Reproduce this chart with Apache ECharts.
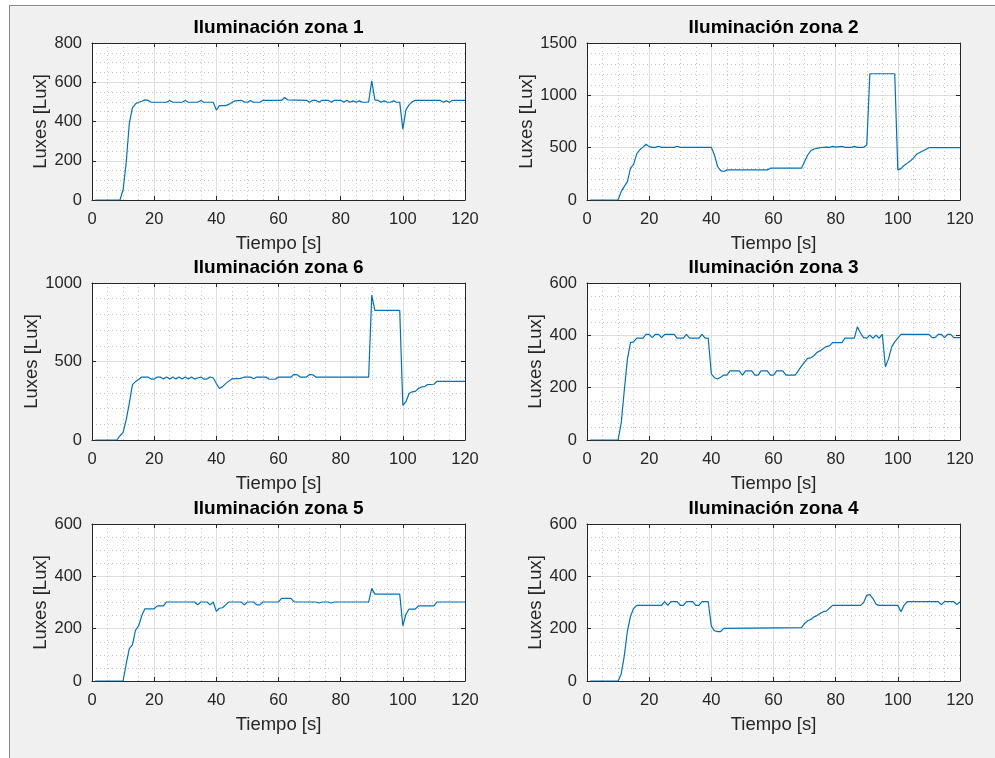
<!DOCTYPE html>
<html>
<head>
<meta charset="utf-8">
<script src="https://cdn.jsdelivr.net/npm/echarts@6/dist/echarts.min.js"></script>
<style>
  html, body { margin: 0; padding: 0; background: #ffffff; }
  #marco { position: absolute; left: 9px; top: 5px; width: 990px; height: 760px;
           background: #f0f0f0; border-left: 1px solid #8c8c8c; border-top: 1px solid #8c8c8c; }
  #grafico { position: absolute; left: 0; top: 0; width: 995px; height: 758px; }
</style>
</head>
<body>
<div id="marco"></div>
<div id="grafico"></div>
<script>
// Mediciones de iluminación por zona: pares [tiempo (s), luxes]
const zona1 = [[1,0],[9,0],[10,52],[11,190],[12,391],[13,470],[14,490],[15,498],[16,503],[17,510],[18,508],[19,498],[24,498],[25,507],[26,498],[29,498],[30,507],[31,498],[34,498],[35,507],[36,498],[39,498],[40,458],[41,481],[43,481],[44,487],[45,497],[46,505],[48,508],[49,500],[50,498],[51,507],[52,498],[54,498],[55,508],[61,508],[62,522],[63,510],[69,508],[70,498],[71,508],[72,508],[73,498],[74,508],[76,508],[77,498],[78,508],[80,508],[81,498],[82,508],[83,498],[84,505],[85,498],[86,505],[87,498],[88,498],[89,500],[90,607],[91,510],[92,508],[93,498],[94,505],[95,498],[96,498],[97,505],[98,498],[99,498],[100,361],[101,459],[102,485],[103,500],[104,508],[112,508],[113,498],[114,505],[115,498],[116,508],[120,508]];
const zona2 = [[1,0],[10,0],[11,80],[12,130],[13,175],[14,304],[15,340],[16,440],[17,480],[18,505],[19,532],[20,510],[21,503],[22,503],[23,513],[24,503],[28,503],[29,513],[30,503],[40,503],[41,430],[42,320],[43,280],[44,272],[45,288],[58,288],[59,304],[69,304],[70,367],[71,430],[72,470],[73,487],[75,500],[77,506],[78,503],[79,512],[80,506],[82,512],[83,503],[85,503],[86,512],[87,503],[89,503],[90,525],[91,1206],[99,1206],[100,288],[101,300],[102,330],[103,350],[104,372],[105,400],[106,437],[108,468],[110,500],[120,500]];
const zona6 = [[1,0],[8,0],[9,27],[10,48],[11,128],[12,233],[13,353],[14,372],[15,385],[16,401],[18,401],[19,388],[20,388],[21,401],[22,401],[23,388],[24,401],[25,388],[26,401],[27,388],[28,401],[29,388],[30,401],[31,388],[32,401],[33,388],[34,395],[35,401],[36,388],[37,388],[38,401],[39,395],[40,360],[41,328],[42,340],[43,359],[44,375],[45,389],[48,393],[49,401],[51,401],[52,390],[53,401],[56,401],[57,387],[59,387],[60,401],[64,401],[65,418],[66,415],[67,401],[69,401],[70,418],[71,415],[72,401],[89,401],[90,922],[91,826],[99,826],[100,221],[101,244],[102,296],[103,307],[104,310],[105,328],[106,338],[107,340],[108,353],[110,355],[111,374],[120,374]];
const zona3 = [[1,0],[10,0],[11,64],[12,190],[13,309],[14,372],[15,375],[16,389],[18,389],[19,404],[20,404],[21,391],[22,404],[23,404],[24,391],[25,404],[28,404],[29,389],[31,389],[32,404],[33,389],[36,389],[37,404],[38,389],[39,389],[40,253],[41,238],[42,233],[43,240],[44,248],[45,248],[46,264],[49,264],[50,248],[51,264],[53,264],[54,248],[55,248],[56,264],[58,264],[59,248],[60,248],[61,264],[63,264],[64,248],[67,248],[68,265],[69,282],[70,298],[71,312],[72,314],[73,322],[74,335],[75,341],[76,350],[77,357],[78,360],[79,372],[82,372],[83,389],[86,389],[87,433],[88,408],[89,391],[90,389],[91,401],[92,389],[93,401],[94,389],[95,404],[96,280],[97,310],[98,355],[99,375],[101,404],[110,404],[111,391],[112,391],[113,404],[114,404],[115,391],[116,404],[117,404],[118,391],[120,391]];
const zona5 = [[1,0],[10,0],[11,65],[12,124],[13,138],[14,194],[15,211],[16,249],[17,276],[20,276],[21,287],[23,287],[24,302],[33,302],[34,291],[35,302],[37,302],[38,291],[39,302],[40,266],[41,278],[42,280],[43,291],[44,302],[48,302],[49,291],[50,302],[52,302],[53,291],[54,291],[55,302],[60,302],[61,316],[64,316],[65,302],[72,302],[73,298],[74,302],[76,302],[77,298],[78,302],[89,302],[90,354],[91,332],[99,332],[100,211],[101,255],[102,275],[104,275],[105,287],[110,287],[111,302],[120,302]];
const zona4 = [[1,0],[10,0],[11,27],[12,96],[13,191],[14,248],[15,277],[16,289],[24,289],[25,303],[26,289],[27,303],[29,303],[30,289],[31,289],[32,303],[34,303],[35,289],[36,289],[37,303],[39,303],[40,210],[41,192],[42,189],[43,189],[44,201],[69,204],[70,220],[71,230],[72,235],[73,245],[74,250],[75,258],[76,265],[77,267],[78,278],[79,289],[88,289],[89,300],[90,328],[91,330],[92,315],[93,293],[94,289],[100,289],[101,265],[102,289],[103,303],[113,303],[114,292],[115,303],[118,303],[119,292],[120,303]];

// Paneles en orden de lectura (fila por fila)
const titulos = ['Iluminación zona 1', 'Iluminación zona 2', 'Iluminación zona 6', 'Iluminación zona 3', 'Iluminación zona 5', 'Iluminación zona 4'];
const datosZonas = [zona1, zona2, zona6, zona3, zona5, zona4];
const yMaximos = [800, 1500, 1000, 600, 600, 600];
const yPasos = [200, 500, 500, 200, 200, 200];
const yDivMenores = [4, 5, 5, 4, 4, 4];
const xMaximo = 120;
const xPaso = 20;
const etiquetaX = 'Tiempo [s]';
const etiquetaY = 'Luxes [Lux]';

// Disposición de los ejes
const izquierdas = [92, 587];
const arribas = [43, 283, 524];
const ancho = 373, alto = 157;
const separacionNombreY = [42, 51, 46, 42, 42, 42];

const colorEje = '#262626';
const fuente = 'Liberation Sans, Arial, Helvetica, sans-serif';
const sinSeparador = v => String(v);

const grid = [], xAxis = [], yAxis = [], series = [], graphic = [];
const xSup = [], yDer = [];

titulos.forEach((titulo, i) => {
  const col = i % 2, fila = Math.floor(i / 2);
  const left = izquierdas[col], top = arribas[fila];
  grid.push({ left: left, top: top, width: ancho, height: alto, show: true,
              backgroundColor: '#ffffff', borderWidth: 0 });

  const marcas = { show: true, inside: true, length: 4, lineStyle: { color: colorEje, width: 1 } };
  const lineaEje = { show: true, onZero: false, lineStyle: { color: colorEje, width: 1 } };

  xAxis.push({
    type: 'value', gridIndex: i, position: 'bottom', min: 0, max: xMaximo, interval: xPaso,
    axisLine: lineaEje, axisTick: marcas,
    axisLabel: { color: colorEje, fontSize: 16.5, fontFamily: fuente, margin: 11, formatter: sinSeparador },
    splitLine: { show: true, lineStyle: { color: '#dedede', width: 1 } },
    minorTick: { show: false, splitNumber: 4 },
    minorSplitLine: { show: true, lineStyle: { color: '#c4c4c4', width: 1, type: [1, 3] } },
    name: etiquetaX, nameLocation: 'middle', nameGap: 34,
    nameTextStyle: { color: colorEje, fontSize: 18.5, fontFamily: fuente }
  });
  yAxis.push({
    type: 'value', gridIndex: i, position: 'left', min: 0, max: yMaximos[i], interval: yPasos[i],
    axisLine: lineaEje, axisTick: marcas,
    axisLabel: { color: colorEje, fontSize: 16.5, fontFamily: fuente, margin: 10, formatter: sinSeparador },
    splitLine: { show: true, lineStyle: { color: '#dedede', width: 1 } },
    minorTick: { show: false, splitNumber: yDivMenores[i] },
    minorSplitLine: { show: true, lineStyle: { color: '#c4c4c4', width: 1, type: [1, 3] } },
    name: etiquetaY, nameLocation: 'middle', nameGap: separacionNombreY[i],
    nameTextStyle: { color: colorEje, fontSize: 18.5, fontFamily: fuente }
  });
  // Bordes superior y derecho con marcas interiores (caja completa)
  xSup.push({
    type: 'value', gridIndex: i, position: 'top', min: 0, max: xMaximo, interval: xPaso,
    axisLine: lineaEje, axisTick: marcas, axisLabel: { show: false }, splitLine: { show: false }
  });
  yDer.push({
    type: 'value', gridIndex: i, position: 'right', min: 0, max: yMaximos[i], interval: yPasos[i],
    axisLine: lineaEje, axisTick: marcas, axisLabel: { show: false }, splitLine: { show: false }
  });

  series.push({
    type: 'line', xAxisIndex: i, yAxisIndex: i, data: datosZonas[i],
    showSymbol: false, symbol: 'none', smooth: false,
    lineStyle: { color: '#0072BD', width: 1.2 }
  });

  graphic.push({
    type: 'text', x: left + ancho / 2, y: top - 15,
    style: { text: titulo, fill: '#000000', font: 'bold 19px ' + fuente,
             align: 'center', verticalAlign: 'middle' }
  });
});

const chart = echarts.init(document.getElementById('grafico'), null, { renderer: 'canvas' });
chart.setOption({
  animation: false,
  backgroundColor: 'transparent',
  grid: grid,
  xAxis: xAxis.concat(xSup),
  yAxis: yAxis.concat(yDer),
  series: series,
  graphic: graphic
});
</script>
</body>
</html>
